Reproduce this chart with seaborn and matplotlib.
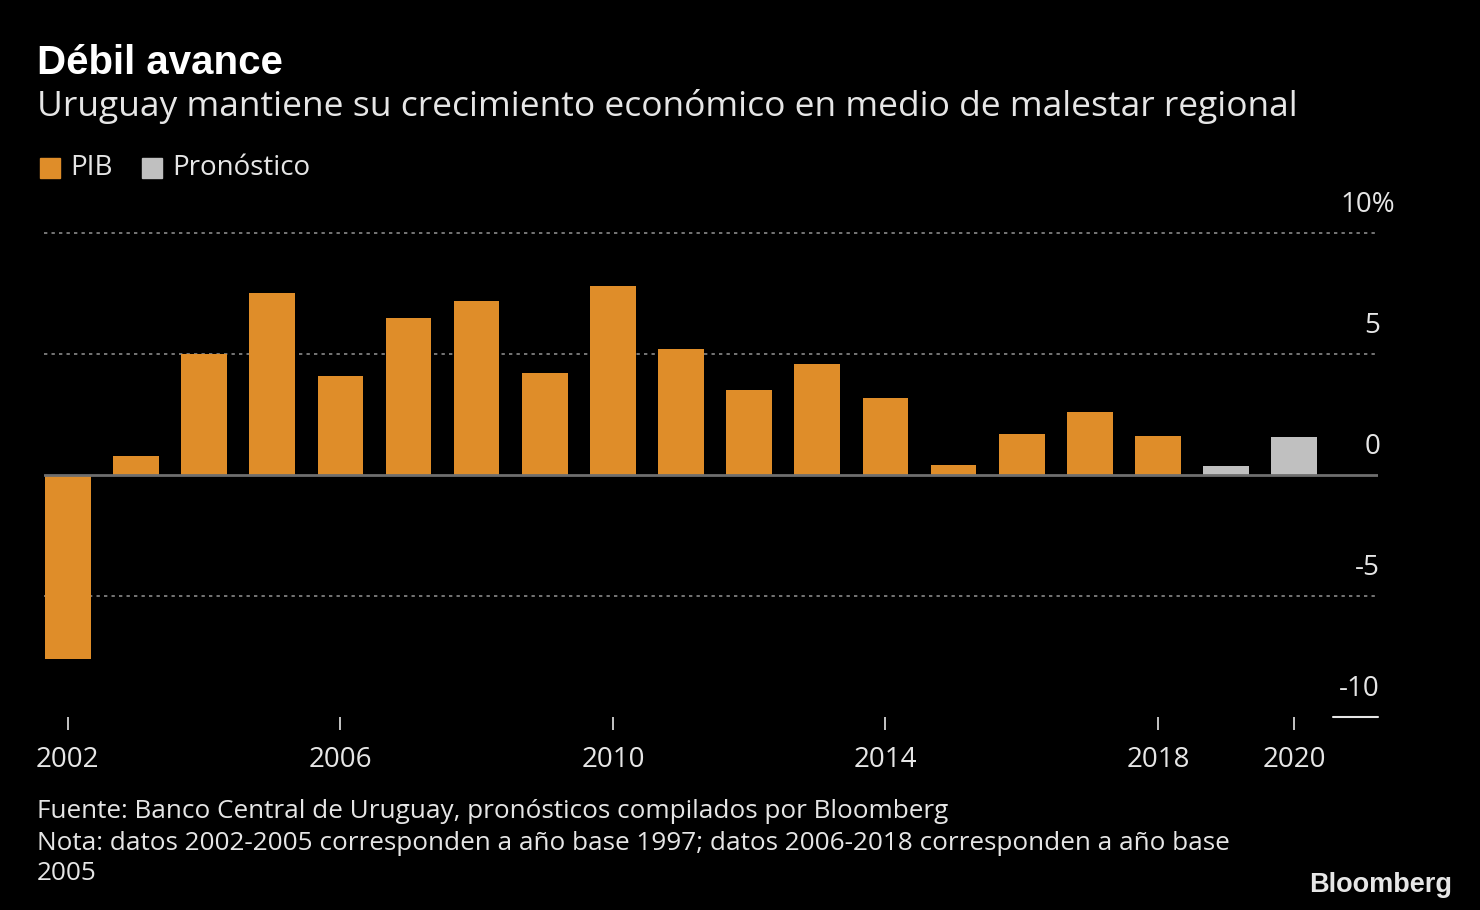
import matplotlib
matplotlib.use("Agg")
import matplotlib.pyplot as plt
import matplotlib.transforms as mtransforms
import seaborn as sns
import pandas as pd

years = list(range(2002, 2021))
values = [-7.6, 0.8, 5.0, 7.5, 4.1, 6.5, 7.2, 4.2, 7.8, 5.2, 3.5, 4.6, 3.2, 0.4, 1.7, 2.6, 1.6, 0.35, 1.55]
tipo = ["PIB"] * 17 + ["Pronóstico"] * 2
xtick_years = [2002, 2006, 2010, 2014, 2018, 2020]
ytick_vals = [10, 5, 0, -5, -10]
ytick_labels = ["10%", "5", "0", "-5", "-10"]

ORANGE = "#DF8D29"
GRAY = "#C0C0C0"
TEXT = "#E6E6E6"
FONT = ["Open Sans", "DejaVu Sans"]

sns.set_theme(style="dark")
plt.rcParams["font.family"] = FONT

df = pd.DataFrame({"year": years, "value": values, "tipo": tipo})

fig = plt.figure(figsize=(14.8, 9.1), dpi=100, facecolor="black")
ax = fig.add_axes([44 / 1480, 1 - 717 / 910, (1378 - 44) / 1480, (717 - 215) / 910])
ax.set_facecolor("black")

sns.barplot(data=df, x="year", y="value", hue="tipo",
            palette={"PIB": ORANGE, "Pronóstico": GRAY},
            native_scale=True, dodge=False, width=0.67, legend=False,
            saturation=1, ax=ax, linewidth=0, edgecolor="none")

ax.set_xlim(2001.65, 2021.23)
ax.set_ylim(-10, 10.74)
for s in ax.spines.values():
    s.set_visible(False)
ax.grid(False)
ax.set_xlabel("")
ax.set_ylabel("")
ax.set_yticks([])
ax.set_xticks(xtick_years)
ax.set_xticklabels([str(y) for y in xtick_years])
ax.tick_params(axis="x", length=9.5, width=1.2, color=TEXT, pad=11.5,
               labelsize=20, labelcolor=TEXT, direction="out", bottom=True)

trans = mtransforms.blended_transform_factory(ax.transAxes, ax.transData)
for v in [10, 5, -5]:
    ax.plot([0, 1], [v, v], transform=trans, color="#8A8A8A", lw=1.2,
            linestyle=(0, (2, 2.5)), zorder=0)
ax.plot([0, 1], [0, 0], transform=trans, color="#6E6E6E", lw=2, zorder=3)
ax.plot([(1333 - 44) / 1334, 1], [-10, -10], transform=trans, color=TEXT, lw=1.5,
        clip_on=False)

for v, lab in zip(ytick_vals, ytick_labels):
    dx = 17 if lab.endswith("%") else 2
    ax.annotate(lab, xy=(1, v), xycoords=trans, xytext=(dx, 28),
                textcoords="offset pixels", ha="right", va="center",
                color=TEXT, fontsize=20, annotation_clip=False)

fig.text(37 / 1480, 1 - 63 / 910, "Débil avance", color="white", fontsize=29,
         fontweight="bold", va="center", ha="left", family=["Liberation Sans", "DejaVu Sans"])
fig.text(37 / 1480, 1 - 106 / 910, "Uruguay mantiene su crecimiento económico en medio de malestar regional",
         color=TEXT, fontsize=25.5, va="center", ha="left")

# legend
fig.patches.append(plt.Rectangle((40 / 1480, 1 - 178 / 910), 20 / 1480, 20 / 910,
                                 transform=fig.transFigure, color=ORANGE))
fig.text(70 / 1480, 1 - 168 / 910, "PIB", color=TEXT, fontsize=20, va="center", ha="left")
fig.patches.append(plt.Rectangle((142 / 1480, 1 - 178 / 910), 20 / 1480, 20 / 910,
                                 transform=fig.transFigure, color=GRAY))
fig.text(172 / 1480, 1 - 168 / 910, "Pronóstico", color=TEXT, fontsize=20, va="center", ha="left")

footer = ["Fuente: Banco Central de Uruguay, pronósticos compilados por Bloomberg",
          "Nota: datos 2002-2005 corresponden a año base 1997; datos 2006-2018 corresponden a año base",
          "2005"]
for i, line in enumerate(footer):
    fig.text(37 / 1480, 1 - (812 + 31 * i) / 910, line, color=TEXT, fontsize=18.8,
             va="center", ha="left")

fig.text(1452 / 1480, 1 - 885 / 910, "Bloomberg", color=TEXT, fontsize=19.5,
         fontweight="bold", va="center", ha="right", family=["Liberation Sans", "DejaVu Sans"])

fig.savefig("out.png", dpi=100, facecolor="black")
